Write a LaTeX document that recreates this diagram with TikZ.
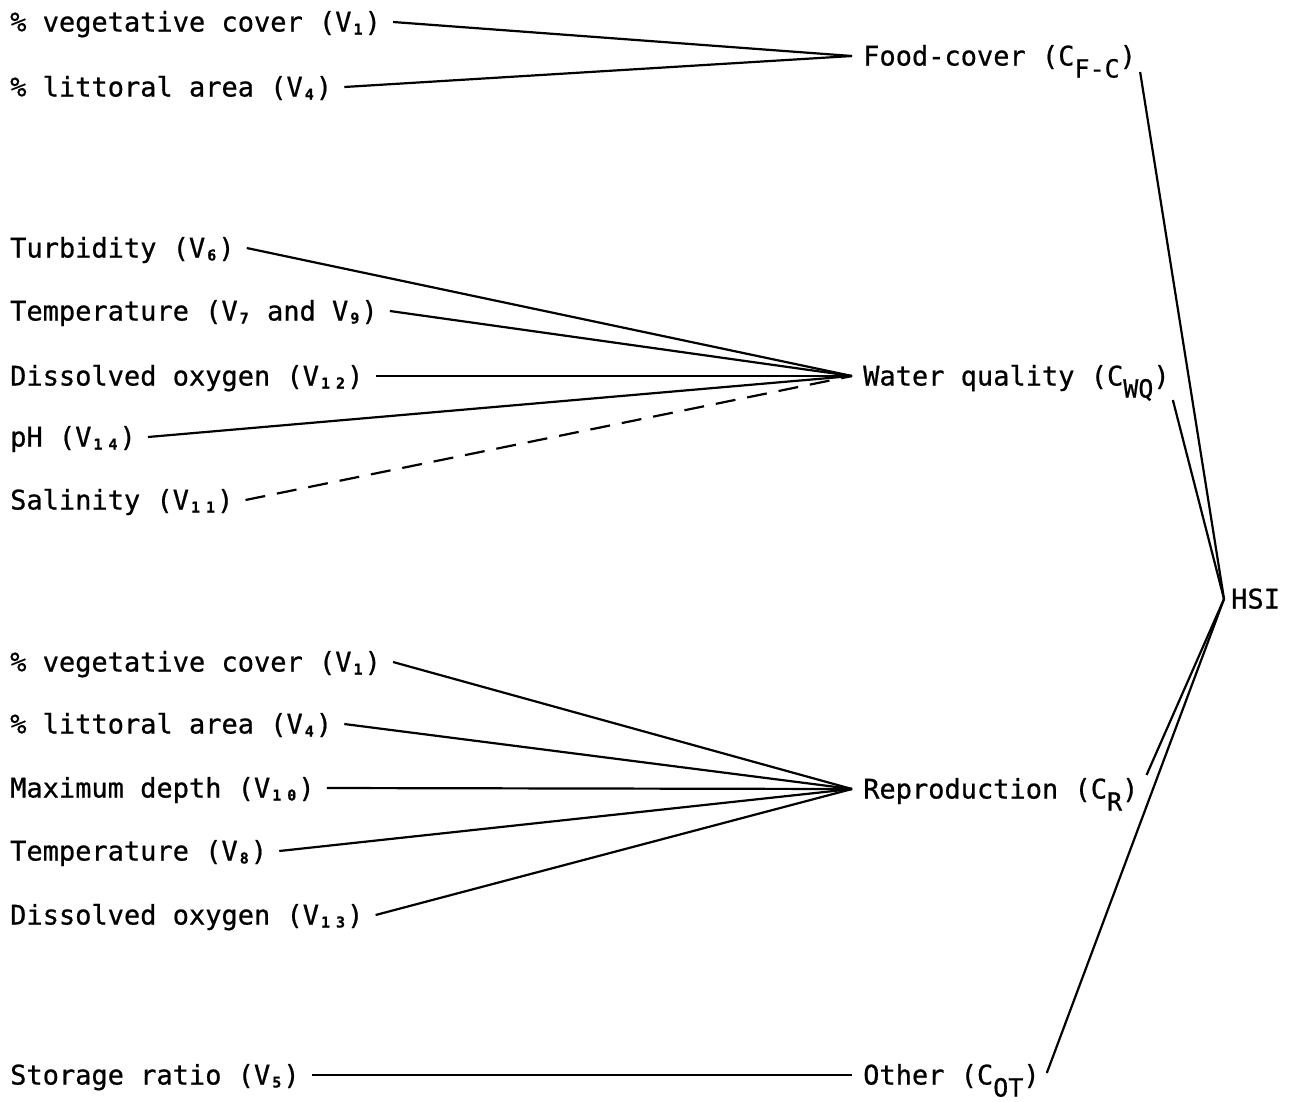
\documentclass[tikz,border=0pt]{standalone}
\usepackage{fontspec}
\newfontfamily\typ[FakeBold=0.7]{DejaVu Sans Mono}
\newcommand\vsub[1]{\hspace{2pt}\raisebox{-3pt}[0pt][0pt]{\fontsize{15}{15}\selectfont\bfseries #1}\hspace{2pt}}
\newcommand\csub[1]{\raisebox{-12pt}[0pt][0pt]{\fontsize{25}{25}\selectfont #1}}
\begin{document}
\begin{tikzpicture}[x=1pt,y=-1pt,
  lab/.style={font=\typ\fontsize{27}{30}\selectfont, inner xsep=0pt, inner ysep=0pt, text height=22pt, text depth=3pt},
  src/.style={lab, anchor=west, inner xsep=12pt},
  tgt/.style={lab, anchor=west, inner xsep=11pt},
  link/.style={line width=2.2pt},
  dashlink/.style={link, dash pattern=on 20pt off 12pt}]
\useasboundingbox[fill=white] (0,0) rectangle (1289,1101);

% left-hand variables
\node[src] (a1) at (-2,22)  {\% vegetative cover (V\vsub{1})};
\node[src] (a2) at (-2,87)  {\% littoral area (V\vsub{4})};
\node[src] (w1) at (-2,248) {Turbidity (V\vsub{6})};
\node[src] (w2) at (-2,311) {Temperature (V\vsub{7} and V\vsub{9})};
\node[src] (w3) at (-2,376) {Dissolved oxygen (V\vsub{1\hspace{6pt}2})};
\node[src] (w4) at (-2,437) {pH (V\vsub{1\hspace{6pt}4})};
\node[src] (w5) at (-2,500) {Salinity (V\vsub{1\hspace{6pt}1})};
\node[src] (r1) at (-2,662) {\% vegetative cover (V\vsub{1})};
\node[src] (r2) at (-2,724) {\% littoral area (V\vsub{4})};
\node[src] (r3) at (-2,788) {Maximum depth (V\vsub{1\hspace{6pt}0})};
\node[src] (r4) at (-2,851) {Temperature (V\vsub{8})};
\node[src] (r5) at (-2,915) {Dissolved oxygen (V\vsub{1\hspace{6pt}3})};
\node[src] (o1) at (-2,1075) {Storage ratio (V\vsub{5})};

% components
\node[tgt] (fc) at (852,56)   {Food-cover (C\csub{F-C})};
\node[tgt] (wq) at (852,376)  {Water quality (C\csub{WQ})};
\node[tgt] (rp) at (852,789)  {Reproduction (C\csub{R})};
\node[tgt] (ot) at (852,1075) {Other (C\csub{OT})};
\node[lab, anchor=west, inner xsep=7pt] (hsi) at (1224,599) {HSI};

% connectors to components
\draw[link] (a1.east) -- (fc.west);
\draw[link] (a2.east) -- (fc.west);
\draw[link] (w1.east) -- (wq.west);
\draw[link] (w2.east) -- (wq.west);
\draw[link] (w3.east) -- (wq.west);
\draw[link] (w4.east) -- (wq.west);
\draw[dashlink] (w5.east) -- (wq.west);
\draw[link] (r1.east) -- (rp.west);
\draw[link] (r2.east) -- (rp.west);
\draw[link] (r3.east) -- (rp.west);
\draw[link] (r4.east) -- (rp.west);
\draw[link] (r5.east) -- (rp.west);
\draw[link] (o1.east) -- (ot.west);

% connectors to HSI
\draw[link] ([shift={(-7,16)}]fc.east) -- (hsi.west);
\draw[link] ([shift={(-8,24)}]wq.east) -- (hsi.west);
\draw[link] ([shift={(-3,-14)}]rp.east) -- (hsi.west);
\draw[link] ([shift={(-4,-2)}]ot.east) -- (hsi.west);
\end{tikzpicture}
\end{document}
